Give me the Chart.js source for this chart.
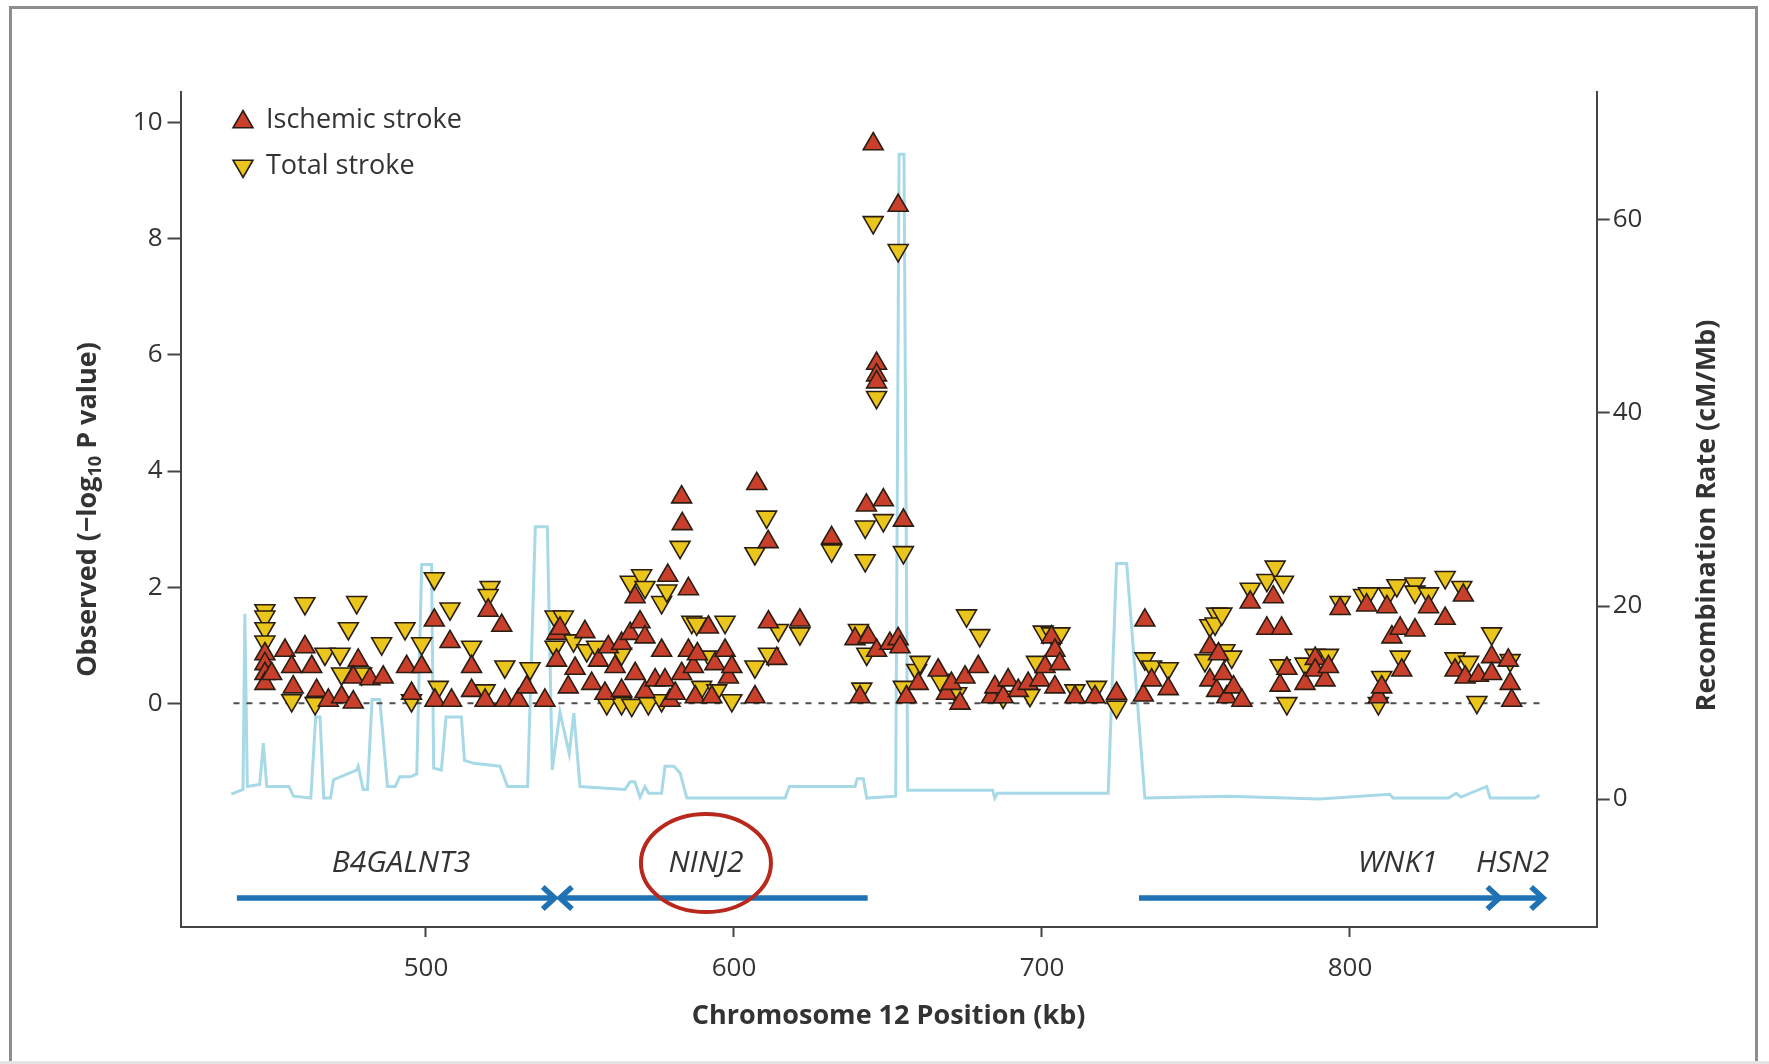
<!DOCTYPE html>
<html>
<head>
<meta charset="utf-8">
<title>Chromosome 12 locus</title>
<script src="https://cdn.jsdelivr.net/npm/chart.js@4.4.1/dist/chart.umd.min.js"></script>
<style>
    html, body { margin: 0; padding: 0; background: #ffffff; }
    #wrap { position: relative; width: 1769px; height: 1064px; }
    #frame {
        position: absolute; left: 9px; top: 6px; width: 1749px; height: 1070px;
        border: 3px solid #8e8e8e; box-sizing: border-box; pointer-events: none;
    }
    #strip { position: absolute; left: 0; bottom: 0; width: 1769px; height: 3px; background: #e4e4e4; }
</style>
</head>
<body>
<div id="wrap">
    <canvas id="locusChart"></canvas>
    <div id="frame"></div>
    <div id="strip"></div>
</div>
<script>
console.log("LOCUS PLOT");

// Axis ticks
const xTickValues = [500, 600, 700, 800];
const yTickValues = [0, 2, 4, 6, 8, 10];
const rateTickValues = [0, 20, 40, 60];

// Ischemic stroke (red, up triangles)
const ischemicKb = [
    447.7, 447.7, 447.7, 447.7, 449.9, 454.2, 456.4, 456.9, 460.7, 462.9,
    464.5, 468.3, 472.6, 476.4, 478.0, 476.4, 481.8, 486.1, 493.7, 495.3,
    498.6, 502.7, 507.8, 502.9, 508.3, 514.8, 514.8, 519.2, 520.2, 524.6,
    525.6, 530.0, 532.7, 538.6, 542.4, 542.4,
    543.5, 546.2, 548.4, 551.6, 553.8, 556.0, 558.1, 559.2, 561.4, 563.5,
    563.5, 566.3, 567.9, 567.9, 569.5, 571.1, 571.1, 574.4, 576.5, 577.6,
    578.5, 579.2, 580.9, 583.0, 583.2, 583.0, 585.2, 585.2, 586.8, 587.4,
    588.1, 591.7, 592.8, 593.8, 597.1, 598.2, 599.3, 606.8, 607.4, 611.1,
    611.2, 613.9, 621.4, 631.7, 639.3, 640.9, 643.0, 643.6, 646.3, 648.5,
    645.2, 646.3, 646.3, 646.3, 653.3, 655.0,
    650.6, 653.3, 653.9, 656.0, 659.8, 666.3, 669.0, 670.6, 673.4, 675.0,
    679.3, 683.6, 684.7, 687.4, 689.0, 692.3, 695.5, 699.3, 701.0, 703.1,
    704.2, 704.2, 705.8, 710.7, 717.2, 724.2, 732.9, 733.4, 735.6, 741.0,
    754.5, 754.5, 756.7,
    757.3, 758.9, 760.0, 762.2, 764.9, 767.6, 773.0, 775.1, 777.3, 777.8,
    779.5, 785.4, 788.7, 788.7, 791.9, 793.0, 796.8, 805.4, 809.2, 810.3,
    812.0, 813.6, 816.3, 816.8, 821.1, 825.5, 830.9, 834.1, 836.8, 837.4,
    841.7, 846.0, 846.0, 851.4, 852.0, 852.5
];
const ischemicLogP = [
    0.85, 0.68, 0.51, 0.34, 0.51, 0.91, 0.63, 0.28, 0.97, 0.63,
    0.22, 0.05, 0.11, 0.02, 0.74, 0.45, 0.42, 0.45, 0.63, 0.17,
    0.63, 1.43, 1.06, 0.05, 0.05, 0.63, 0.22, 0.05, 1.60, 1.34,
    0.05, 0.05, 0.28, 0.05, 1.20, 0.74,
    1.29, 0.28, 0.60, 1.23, 0.34, 0.74, 0.17, 0.97, 0.63, 1.03,
    0.22, 1.20, 1.83, 0.51, 1.40, 1.14, 0.20, 0.40, 0.91, 0.40,
    2.20, 0.05, 0.17, 3.55, 3.09, 0.51, 1.97, 0.91, 0.63, 0.11,
    0.85, 1.31, 0.11, 0.68, 0.91, 0.45, 0.63, 0.11, 3.78, 2.78,
    1.40, 0.77, 1.43, 2.85, 1.11, 0.11, 3.41, 1.14, 0.91, 3.50,
    9.63, 5.85, 5.65, 5.53, 8.57, 3.15,
    1.03, 1.11, 0.97, 0.11, 0.34, 0.57, 0.17, 0.34, 0.00, 0.45,
    0.63, 0.11, 0.28, 0.11, 0.40, 0.22, 0.34, 0.40, 0.63, 1.14,
    0.91, 0.28, 0.68, 0.11, 0.11, 0.17, 0.14, 1.43, 0.40, 0.25,
    0.97, 0.40, 0.22,
    0.85, 0.51, 0.11, 0.28, 0.05, 1.74, 1.29, 1.83, 0.31, 1.29,
    0.60, 0.34, 0.77, 0.57, 0.40, 0.63, 1.63, 1.69, 0.11, 0.28,
    1.66, 1.14, 1.29, 0.57, 1.26, 1.66, 1.46, 0.57, 1.86, 0.45,
    0.48, 0.80, 0.51, 0.74, 0.34, 0.05
];

// Total stroke (yellow, down triangles)
const totalKb = [
    447.7, 447.7, 447.7, 447.7, 460.7, 477.5, 474.8, 485.6, 493.2, 498.6,
    502.7, 507.8, 514.8, 520.8, 520.2, 467.2, 472.1, 456.4, 464.0, 472.6,
    479.1, 495.3, 504.0, 519.2, 525.6, 533.8, 541.9, 541.9,
    544.6, 547.9, 552.2, 555.4, 558.7, 563.5, 563.5, 566.3, 566.8, 570.0,
    571.1, 572.2, 576.5, 576.5, 578.2, 582.5, 586.3, 587.9, 589.5, 592.2,
    594.4, 597.1, 599.3, 606.8, 606.8, 610.6, 611.2, 614.4, 621.4, 631.7,
    640.4, 641.5, 642.6, 642.6, 643.1, 645.2, 646.3, 648.5, 653.3, 655.0,
    655.0, 659.3, 660.4, 666.9, 672.3, 675.5, 679.8, 687.4, 696.1, 698.2,
    700.4, 703.1, 705.8, 710.7, 717.7, 724.2, 733.4, 735.6, 741.0, 752.9,
    754.5, 756.7,
    756.2, 758.4, 759.4, 761.6, 767.6, 773.0, 775.7, 777.3, 778.4, 779.5,
    785.4, 788.7, 793.0, 796.8, 804.4, 806.0, 809.2, 810.3, 812.5, 815.2,
    816.3, 821.1, 821.1, 825.5, 830.9, 834.1, 836.3, 838.5, 841.2, 846.0,
    852.0
];
const totalLogP = [
    1.60, 1.49, 1.29, 1.06, 1.72, 1.74, 1.29, 1.03, 1.29, 1.03,
    2.15, 1.63, 0.97, 2.00, 1.86, 0.85, 0.85, 0.05, 0.00, 0.51,
    0.51, 0.05, 0.28, 0.22, 0.63, 0.60, 1.49, 0.97,
    1.49, 1.08, 0.91, 0.97, 0.00, 0.85, 0.00, 2.09, -0.03, 2.20,
    2.00, 0.00, 1.74, 0.05, 1.94, 2.69, 1.40, 1.37, 0.28, 0.80,
    0.22, 1.40, 0.05, 2.58, 0.63, 3.21, 0.85, 1.26, 1.20, 2.63,
    1.26, 0.25, 3.04, 2.46, 0.85, 8.28, 5.27, 3.15, 7.80, 2.60,
    0.28, 0.57, 0.71, 0.40, 0.17, 1.51, 1.17, 0.11, 0.14, 0.71,
    1.23, 1.20, 1.20, 0.22, 0.28, -0.06, 0.77, 0.63, 0.60, 0.74,
    1.34, 1.54,
    1.37, 1.54, 0.91, 0.80, 1.97, 2.12, 2.35, 0.65, 2.09, 0.00,
    0.68, 0.83, 0.83, 1.74, 1.86, 1.89, 0.00, 0.45, 1.89, 2.03,
    0.80, 2.06, 1.92, 1.89, 2.17, 0.77, 2.00, 0.71, 0.02, 1.20,
    0.74
];

// Recombination rate (cM/Mb, right axis)
const recombKb = [
    436.8, 440.6, 441.2, 442.0, 446.0, 447.2, 448.3, 455.5, 457.0, 462.6,
    464.2, 465.6, 466.8, 469.0, 470.0, 477.5, 478.0, 479.6, 481.0, 482.5,
    485.0, 487.5, 490.0, 491.5, 495.0, 497.0, 498.6, 501.8, 502.5, 505.0,
    506.5, 511.5, 512.5, 515.5, 524.0, 526.5, 533.0, 535.5, 539.4, 541.0,
    543.5, 546.5, 548.0, 550.0, 564.6, 566.3, 567.8, 569.5, 571.1, 572.3,
    576.5, 577.6, 580.5, 582.5, 584.7, 616.6, 618.0, 639.3, 640.0, 642.0,
    643.1, 652.5, 653.6, 655.2, 656.4, 684.0, 684.7, 685.5, 721.5, 724.2,
    727.5, 733.4, 760.5, 790.0, 812.9, 814.0, 832.0, 834.5, 836.0, 844.4,
    845.5, 860.0, 861.5
];
const recombRate = [
    0.5, 1.0, 19.2, 1.3, 1.5, 5.8, 1.3, 1.3, 0.3, 0.1,
    8.5, 8.5, 0.1, 0.1, 2.0, 3.0, 3.4, 1.0, 1.0, 10.3,
    10.3, 1.3, 1.3, 2.3, 2.3, 2.6, 24.3, 24.3, 3.2, 3.0,
    8.5, 8.5, 4.0, 3.7, 3.4, 1.3, 1.3, 28.2, 28.2, 3.0,
    9.0, 4.7, 8.9, 1.3, 1.0, 1.8, 1.8, 0.2, 1.3, 0.6,
    0.6, 3.4, 3.4, 2.7, 0.1, 0.1, 1.3, 1.3, 2.1, 2.1,
    0.1, 0.3, 66.8, 66.8, 0.9, 0.9, 0.1, 0.6, 0.6, 24.4,
    24.4, 0.1, 0.3, 0.0, 0.5, 0.1, 0.1, 0.6, 0.2, 1.3,
    0.1, 0.1, 0.4
];

// Reference line at -log10 P = 0
const zeroLineKb = [437.5, 861.7];

// Genes (start -> arrow tip, kb)
const geneNames = ["B4GALNT3", "NINJ2", "WNK1", "HSN2"];
const geneStartKb = [438.6, 643.4, 731.5, 848.5];
const geneEndKb = [541.8, 543.5, 848.5, 862.7];
const geneLabelKb = [491.9, 590.9, 815.5, 852.8];
const highlightedGene = "NINJ2";

const toPoints = (xs, ys) => xs.map((x, i) => ({ x: x, y: ys[i] }));

const FONT = "'Open Sans', 'DejaVu Sans', sans-serif";
const AXIS_COLOR = "#454545";
const TEXT_COLOR = "#333333";
const RED = "#c8402b";
const YELLOW = "#eac51c";
const MARK_BORDER = "#2a1d12";

function drawTriangle(ctx, x, y, r, down) {
    const s = down ? -1 : 1;
    const h = r * Math.sin(Math.PI / 3);
    ctx.beginPath();
    ctx.moveTo(x, y - s * r);
    ctx.lineTo(x + h, y + s * r / 2);
    ctx.lineTo(x - h, y + s * r / 2);
    ctx.closePath();
    ctx.fill();
    ctx.stroke();
}

// Legend, vertical titles, gene track and the NINJ2 circle
const overlayPlugin = {
    id: "locusOverlay",
    afterDraw(chart) {
        const ctx = chart.ctx;
        const xs = chart.scales.x;
        const ys = chart.scales.y;
        const area = chart.chartArea;
        const midY = (area.top + area.bottom) / 2;

        ctx.save();

        // Legend
        ctx.lineWidth = 1.6;
        ctx.strokeStyle = MARK_BORDER;
        ctx.fillStyle = RED;
        drawTriangle(ctx, 243, 122, 11.5, false);
        ctx.fillStyle = YELLOW;
        drawTriangle(ctx, 243, 166, 11.5, true);
        ctx.fillStyle = TEXT_COLOR;
        ctx.font = "27px " + FONT;
        ctx.textBaseline = "middle";
        ctx.textAlign = "left";
        ctx.fillText("Ischemic stroke", 266, 120);
        ctx.fillText("Total stroke", 266, 166);

        // Left title with subscript
        ctx.save();
        ctx.translate(88, midY);
        ctx.rotate(-Math.PI / 2);
        const big = "bold 27px " + FONT;
        const small = "bold 18px " + FONT;
        const parts = [
            ["Observed (\u2212log", big, 0],
            ["10", small, 8],
            [" P value)", big, 0]
        ];
        let total = 0;
        parts.forEach(p => { ctx.font = p[1]; total += ctx.measureText(p[0]).width; });
        let cx = -total / 2;
        parts.forEach(p => {
            ctx.font = p[1];
            ctx.fillText(p[0], cx, p[2]);
            cx += ctx.measureText(p[0]).width;
        });
        ctx.restore();

        // Right title
        ctx.save();
        ctx.translate(1707, midY + 6);
        ctx.rotate(-Math.PI / 2);
        ctx.font = "bold 27px " + FONT;
        ctx.textAlign = "center";
        ctx.fillText("Recombination Rate (cM/Mb)", 0, 0);
        ctx.restore();

        // Gene arrows
        const trackY = ys.getPixelForValue(-3.35);
        const labelY = ys.getPixelForValue(-2.75);
        ctx.strokeStyle = "#1f72b4";
        ctx.lineWidth = 5.5;
        ctx.lineJoin = "miter";
        ctx.lineCap = "butt";
        geneNames.forEach((name, i) => {
            const x0 = xs.getPixelForValue(geneStartKb[i]);
            const x1 = xs.getPixelForValue(geneEndKb[i]);
            const dir = x1 > x0 ? 1 : -1;
            ctx.beginPath();
            ctx.moveTo(x0, trackY);
            ctx.lineTo(x1 - dir * 3, trackY);
            ctx.stroke();
            ctx.beginPath();
            ctx.moveTo(x1 - dir * 12, trackY - 11);
            ctx.lineTo(x1, trackY);
            ctx.lineTo(x1 - dir * 12, trackY + 11);
            ctx.stroke();
        });

        ctx.fillStyle = TEXT_COLOR;
        ctx.font = "italic 30px " + FONT;
        ctx.textAlign = "center";
        geneNames.forEach((name, i) => {
            ctx.fillText(name, xs.getPixelForValue(geneLabelKb[i]), labelY);
        });

        // Circle around the highlighted gene
        const g = geneNames.indexOf(highlightedGene);
        ctx.strokeStyle = "#b8281c";
        ctx.lineWidth = 4;
        ctx.beginPath();
        ctx.ellipse(xs.getPixelForValue(geneLabelKb[g]), labelY, 65, 49, 0, 0, Math.PI * 2);
        ctx.stroke();

        ctx.restore();
    }
};

function fixTicks(values) {
    return scale => { scale.ticks = values.map(v => ({ value: v })); };
}

const ctx = document.getElementById("locusChart").getContext("2d");

const locusChart = new Chart(ctx, {

    type: "scatter",

    data: {
        datasets: [
            {
                label: "Ischemic stroke",
                data: toPoints(ischemicKb, ischemicLogP),
                yAxisID: "y",
                pointStyle: "triangle",
                pointRadius: 11.5,
                pointBackgroundColor: RED,
                pointBorderColor: MARK_BORDER,
                pointBorderWidth: 1.6,
                order: 0
            },
            {
                label: "Total stroke",
                data: toPoints(totalKb, totalLogP),
                yAxisID: "y",
                pointStyle: "triangle",
                pointRotation: 180,
                pointRadius: 11.5,
                pointBackgroundColor: YELLOW,
                pointBorderColor: MARK_BORDER,
                pointBorderWidth: 1.6,
                order: 1
            },
            {
                label: "Baseline",
                data: zeroLineKb.map(x => ({ x: x, y: 0 })),
                yAxisID: "y",
                showLine: true,
                borderColor: "#4d4d4d",
                borderWidth: 2,
                borderDash: [6, 7],
                pointRadius: 0,
                order: 2
            },
            {
                label: "Recombination rate",
                data: toPoints(recombKb, recombRate),
                yAxisID: "y2",
                showLine: true,
                borderColor: "#a8d9e7",
                borderWidth: 3,
                pointRadius: 0,
                tension: 0,
                order: 3
            }
        ]
    },

    options: {

        responsive: true,
        maintainAspectRatio: false,
        animation: false,
        events: [],

        layout: {
            padding: { top: 92, left: 0, right: 0, bottom: 0 }
        },

        plugins: {
            legend: { display: false },
            tooltip: { enabled: false }
        },

        scales: {

            x: {
                type: "linear",
                position: "bottom",
                min: 420.3,
                max: 880.1,
                afterBuildTicks: fixTicks(xTickValues),
                afterFit: scale => { scale.height = 137; },
                border: { color: AXIS_COLOR, width: 2 },
                grid: {
                    drawOnChartArea: false,
                    tickLength: 10,
                    tickColor: AXIS_COLOR,
                    tickWidth: 2
                },
                ticks: {
                    color: TEXT_COLOR,
                    padding: 16,
                    font: { family: FONT, size: 26 }
                },
                title: {
                    display: true,
                    text: "Chromosome 12 Position (kb)",
                    color: TEXT_COLOR,
                    padding: { top: 0, bottom: 31 },
                    font: { family: FONT, size: 27, weight: "bold" }
                }
            },

            y: {
                type: "linear",
                position: "left",
                min: -3.85,
                max: 10.525,
                afterBuildTicks: fixTicks(yTickValues),
                afterFit: scale => { scale.width = 180.5; },
                border: { color: AXIS_COLOR, width: 2 },
                grid: {
                    drawOnChartArea: false,
                    tickLength: 13,
                    tickColor: AXIS_COLOR,
                    tickWidth: 2
                },
                ticks: {
                    color: TEXT_COLOR,
                    padding: 5,
                    font: { family: FONT, size: 26 }
                }
            },

            y2: {
                type: "linear",
                position: "right",
                min: -13.26,
                max: 73.26,
                afterBuildTicks: fixTicks(rateTickValues),
                afterFit: scale => { scale.width = 172.3; },
                border: { color: AXIS_COLOR, width: 2 },
                grid: {
                    drawOnChartArea: false,
                    tickLength: 13,
                    tickColor: AXIS_COLOR,
                    tickWidth: 2
                },
                ticks: {
                    color: TEXT_COLOR,
                    padding: 3,
                    font: { family: FONT, size: 26 }
                }
            }
        }
    },

    plugins: [overlayPlugin]

});
</script>
</body>
</html>
